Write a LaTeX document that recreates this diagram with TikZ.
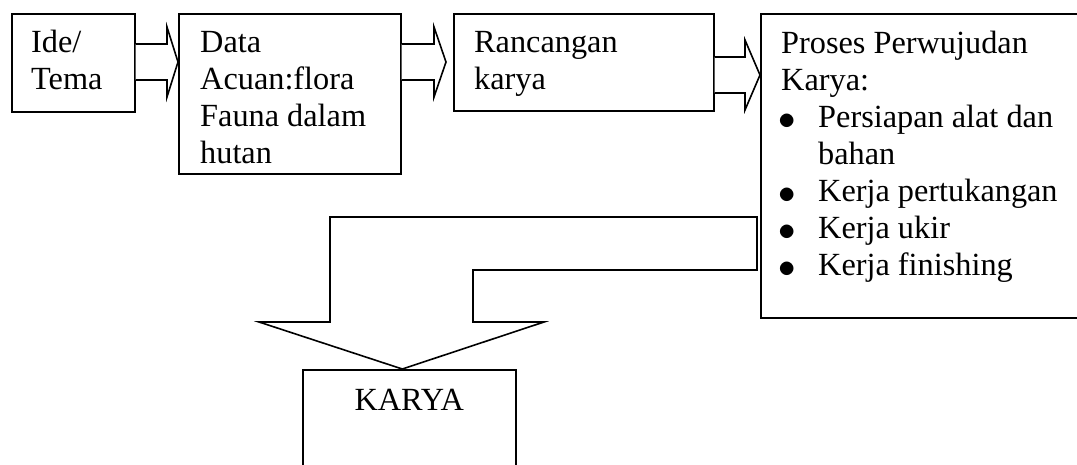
\documentclass[tikz,border=0pt]{standalone}
\usepackage{fontspec}
\setmainfont{Liberation Serif}
\usetikzlibrary{calc}
\newcommand{\bulletmark}{\makebox[37pt][l]{\hspace{-3pt}\raisebox{-2pt}{\scalebox{1.4}{$\bullet$}}}}
\begin{document}
\begin{tikzpicture}[x=1pt,y=-1pt,
  box/.style={draw, line width=1.6pt, rectangle, anchor=north west, inner sep=0pt},
  txt/.style={anchor=base west, inner sep=0pt, font=\fontsize{32.3pt}{37pt}\selectfont},
  blk/.style={draw, line width=1.6pt, line join=miter, fill=white}]
\useasboundingbox (0,0) rectangle (1077,464);
% boxes
\node[box, minimum width=123pt, minimum height=98pt] (b1) at (11,13) {};
\node[box, minimum width=222pt, minimum height=160pt] (b2) at (178,13) {};
\node[box, minimum width=260pt, minimum height=97pt] (b3) at (453,13) {};
\node[box, minimum width=320pt, minimum height=304pt] (b4) at (760,13) {};
\node[box, minimum width=213pt, minimum height=120pt] (b5) at (302,369) {};
% texts
\node[txt] (t1) at (31,52) {\parbox[t]{110pt}{\raggedright Ide/\\Tema}};
\node[txt] (t2) at (200,52) {\parbox[t]{200pt}{\raggedright Data\\Acuan:flora\\Fauna dalam\\hutan}};
\node[txt] (t3) at (474,52) {\parbox[t]{230pt}{\raggedright Rancangan\\karya}};
\node[txt] (t4) at (781,53) {\parbox[t]{295pt}{\raggedright Proses Perwujudan\\Karya:\\
\bulletmark Persiapan alat dan\\
\hspace*{37pt}bahan\\
\bulletmark Kerja pertukangan\\
\bulletmark Kerja ukir\\
\bulletmark Kerja finishing}};
\node[txt, anchor=base] (t5) at (b5.north |- 0,410) {KARYA};
% block arrows
\draw[blk] (b1.east |- 0,44) -- (167,44) -- (167,27) -- (b2.west |- 0,62) -- (167,97) -- (167,80) -- (b1.east |- 0,80);
\draw[blk] (b2.east |- 0,44) -- (434,44) -- (434,27) -- ($(b3.west |- 0,62)+(-7,0)$) -- (434,97) -- (434,80) -- (b2.east |- 0,80);
\draw[blk] (b3.east |- 0,57) -- (745,57) -- (745,40) -- (b4.west |- 0,75) -- (745,110) -- (745,93) -- (b3.east |- 0,93);
\draw[blk] ($(b4.west |- 0,217)+(-3,0)$) -- (330,217) -- (330,322) -- (259,322) -- ($(b5.north)+(-7,0)$) -- (544,322) -- (473,322) -- (473,270) -- ($(b4.west |- 0,270)+(-3,0)$) -- cycle;
\end{tikzpicture}
\end{document}
